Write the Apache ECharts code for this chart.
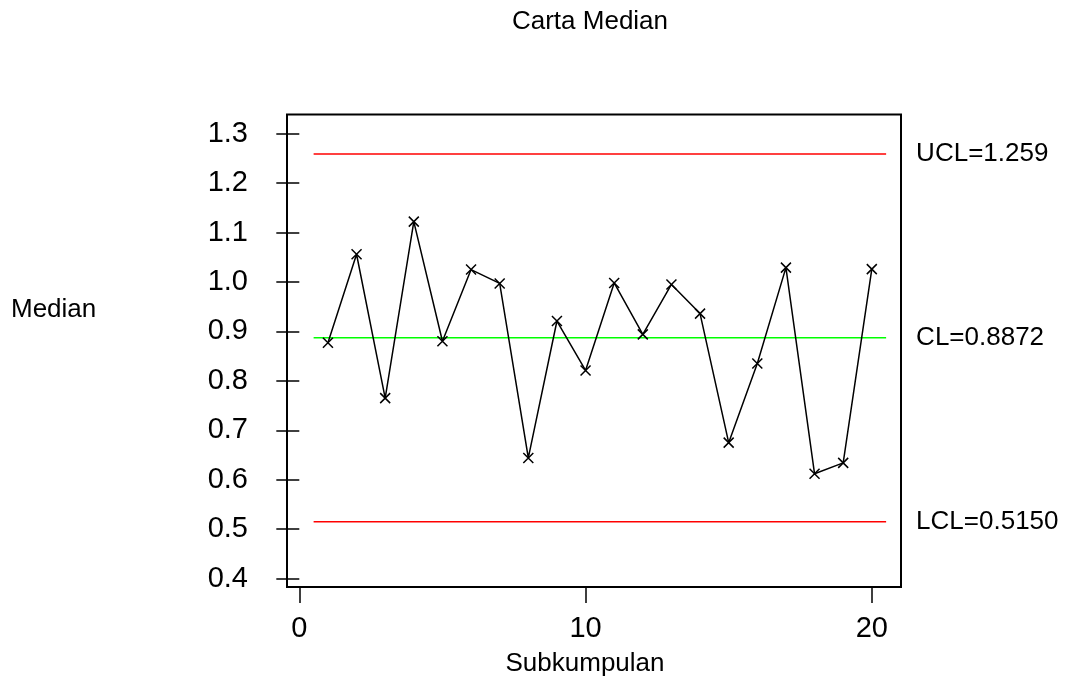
<!DOCTYPE html>
<html>
<head>
<meta charset="utf-8">
<script src="https://cdn.jsdelivr.net/npm/echarts@6/dist/echarts.min.js"></script>
<style>
html,body{margin:0;padding:0;background:#fff;}
#chart{width:1068px;height:684px;}
</style>
</head>
<body>
<div id="chart"></div>
<script>
// ---- data ----
const subgroups = [1,2,3,4,5,6,7,8,9,10,11,12,13,14,15,16,17,18,19,20];
const medians = [0.877,1.056,0.765,1.122,0.880,1.025,0.997,0.644,0.921,0.821,
                 0.998,0.894,0.995,0.936,0.675,0.835,1.029,0.612,0.634,1.026];
const UCL = 1.259;
const CL = 0.8872;
const LCL = 0.5150;
const limitLabels = ['UCL=1.259','CL=0.8872','LCL=0.5150'];
const yTicks = [0.4,0.5,0.6,0.7,0.8,0.9,1.0,1.1,1.2,1.3];
const xTicks = [0,10,20];
const lineSpan = [0.5, 20.5];

const FONT = '"Liberation Sans", Arial, sans-serif';
const FS = 26;
const TFS = 29;

const chart = echarts.init(document.getElementById('chart'), null, {renderer:'canvas'});

function limitSeries(name, value, color, label){
  return {
    name: name, type: 'line',
    data: lineSpan.map(x => [x, value]),
    symbol: 'none', silent: true,
    lineStyle: {color: color, width: 1.5},
    itemStyle: {color: color},
    endLabel: {show: true, formatter: label, color: '#000', fontSize: FS, fontFamily: FONT, distance: 30},
    z: 2, animation: false
  };
}

chart.setOption({
  animation: false,
  backgroundColor: '#fff',
  grid: {left: 287, right: 167, top: 114.5, bottom: 97, show: true, borderColor: '#000', borderWidth: 2, backgroundColor: 'transparent'},
  xAxis: {
    type: 'value', min: -0.43, max: 21.02,
    axisLine: {show: false},
    splitLine: {show: false},
    axisTick: {show: true, length: 16, lineStyle: {color: '#000', width: 1.5}, customValues: xTicks},
    axisLabel: {color: '#000', fontSize: TFS, fontFamily: FONT, margin: 27, customValues: xTicks, formatter: v => String(v)}
  },
  yAxis: {
    type: 'value', min: 0.383, max: 1.3387,
    axisLine: {show: false},
    splitLine: {show: false},
    axisTick: {show: true, length: 23, lineStyle: {color: '#000', width: 1.5}, customValues: yTicks},
    axisLabel: {color: '#000', fontSize: TFS, fontFamily: FONT, margin: 39, customValues: yTicks, formatter: v => v.toFixed(1)}
  },
  graphic: [
    {type: 'text', x: 590, y: 22, style: {text: 'Carta Median', fill: '#000', font: FS + 'px ' + FONT, textAlign: 'center', textVerticalAlign: 'middle'}},
    {type: 'text', x: 11, y: 310, style: {text: 'Median', fill: '#000', font: FS + 'px ' + FONT, textAlign: 'left', textVerticalAlign: 'middle'}},
    {type: 'text', x: 585, y: 664, style: {text: 'Subkumpulan', fill: '#000', font: FS + 'px ' + FONT, textAlign: 'center', textVerticalAlign: 'middle'}}
  ],
  series: [
    limitSeries('UCL', UCL, '#ff0000', limitLabels[0]),
    limitSeries('CL', CL, '#00ff00', limitLabels[1]),
    limitSeries('LCL', LCL, '#ff0000', limitLabels[2]),
    {
      name: 'Median', type: 'line',
      data: subgroups.map((s, i) => [s, medians[i]]),
      symbol: 'path://M0,0L10,10M10,0L0,10', symbolSize: 10,
      showSymbol: true,
      lineStyle: {color: '#000', width: 1.5},
      itemStyle: {color: '#000', borderColor: '#000', borderWidth: 1.5},
      z: 3
    }
  ]
});
</script>
</body>
</html>
